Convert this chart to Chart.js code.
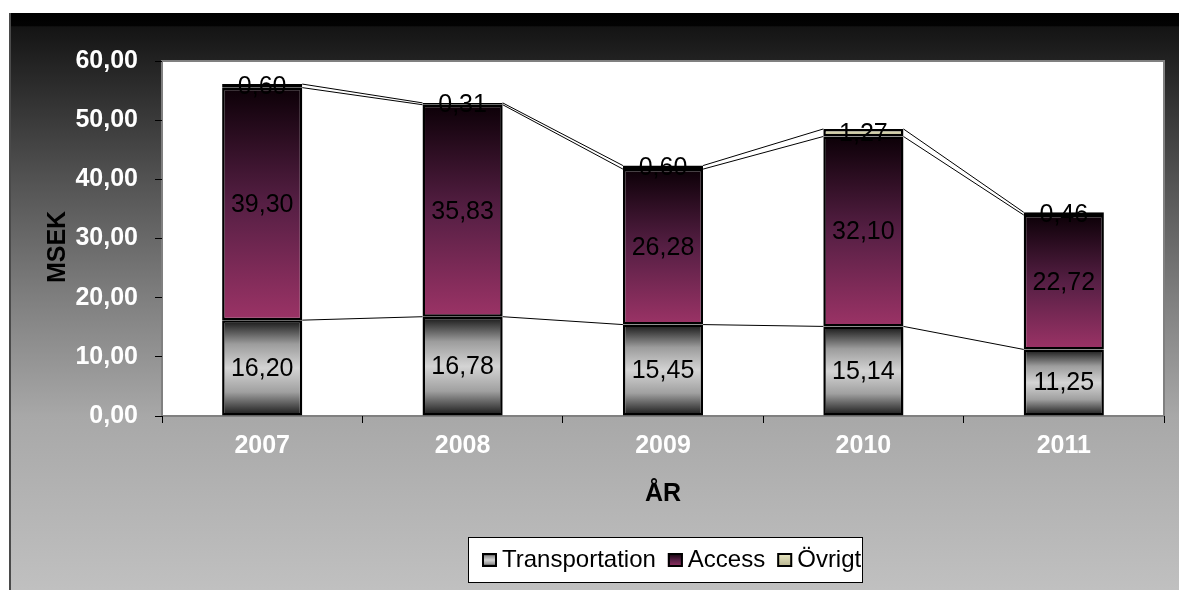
<!DOCTYPE html>
<html>
<head>
<meta charset="utf-8">
<script src="https://cdn.jsdelivr.net/npm/chart.js@4/dist/chart.umd.min.js"></script>
<style>
  body { margin: 0; background: #fff; }
  canvas { display: block; }
</style>
</head>
<body>
<canvas id="costChart" width="1179" height="590"></canvas>
<script>
// Chart data
const years = ['2007', '2008', '2009', '2010', '2011'];
const transportation = [16.20, 16.78, 15.45, 15.14, 11.25];
const access = [39.30, 35.83, 26.28, 32.10, 22.72];
const ovrigt = [0.60, 0.31, 0.60, 1.27, 0.46];
const yTickValues = [0, 10, 20, 30, 40, 50, 60];

const FONT = '"Liberation Sans", Arial, sans-serif';

function fmt(v) {
    return v.toFixed(2).replace('.', ',');
}

// vertical gradient stops per series
const gradientStops = [
    [[0, '#151515'], [0.25, '#9c9c9c'], [0.5, '#d4d4d4'], [0.75, '#a0a0a0'], [1, '#151515']],
    [[0, '#0c0007'], [0.5, '#561f44'], [1, '#9b3366']],
    [[0, '#ecebc6'], [1, '#b4b08c']]
];
const seriesData = [transportation, access, ovrigt];

function makeGradient(ctx, y0, y1, stops) {
    const g = ctx.createLinearGradient(0, y0, 0, y1);
    stops.forEach(s => g.addColorStop(s[0], s[1]));
    return g;
}

// gradient for one stacked segment, from the y scale
function segmentFill(context) {
    const chart = context.chart;
    const yScale = chart.scales.y;
    const ds = context.datasetIndex;
    const i = context.dataIndex;
    if (!yScale || i === undefined) return gradientStops[ds][0][1];
    let base = 0;
    for (let k = 0; k < ds; k++) base += seriesData[k][i];
    const top = base + seriesData[ds][i];
    const yTop = yScale.getPixelForValue(top);
    const yBase = yScale.getPixelForValue(base);
    if (!isFinite(yTop) || !isFinite(yBase) || yTop === yBase) return gradientStops[ds][0][1];
    return makeGradient(chart.ctx, yTop, yBase, gradientStops[ds]);
}

// background, plot area, titles, legend
const frame = {
    id: 'frame',
    beforeDraw(chart) {
        const ctx = chart.ctx;
        const a = chart.chartArea;
        ctx.save();
        ctx.fillStyle = '#fff';
        ctx.fillRect(0, 0, chart.width, chart.height);
        const bg = ctx.createLinearGradient(0, 13, 0, 590);
        bg.addColorStop(0, '#000000');
        bg.addColorStop(0.022, '#030303');
        bg.addColorStop(0.024, '#141414');
        bg.addColorStop(0.1, '#262626');
        bg.addColorStop(0.3, '#555555');
        bg.addColorStop(0.5, '#808080');
        bg.addColorStop(0.7, '#a8a8a8');
        bg.addColorStop(1, '#c0c0c0');
        ctx.fillStyle = bg;
        ctx.fillRect(9, 13, chart.width - 9, chart.height - 13);
        ctx.strokeStyle = '#4a4a4a';
        ctx.lineWidth = 2;
        ctx.beginPath();
        ctx.moveTo(10, 13);
        ctx.lineTo(10, chart.height);
        ctx.stroke();
        ctx.fillStyle = '#fff';
        ctx.fillRect(a.left, a.top, a.right - a.left, a.bottom - a.top);
        ctx.strokeStyle = '#808080';
        ctx.lineWidth = 2;
        ctx.strokeRect(a.left, a.top, a.right - a.left, a.bottom - a.top);
        ctx.restore();
    },
    afterDraw(chart) {
        const ctx = chart.ctx;
        const a = chart.chartArea;
        ctx.save();
        // axis titles
        ctx.fillStyle = '#000';
        ctx.font = 'bold 25px ' + FONT;
        ctx.textAlign = 'center';
        ctx.textBaseline = 'middle';
        ctx.fillText('ÅR', (a.left + a.right) / 2, 494);
        ctx.translate(58, 247);
        ctx.rotate(-Math.PI / 2);
        ctx.fillText('MSEK', 0, 0);
        ctx.restore();

        // legend
        ctx.save();
        ctx.fillStyle = '#fff';
        ctx.fillRect(468, 537, 394, 45);
        ctx.strokeStyle = '#000';
        ctx.lineWidth = 1;
        ctx.strokeRect(468.5, 537.5, 394, 45);
        ctx.font = '24px ' + FONT;
        ctx.textBaseline = 'middle';
        ctx.textAlign = 'left';
        let x = 482;
        chart.data.datasets.forEach((ds, k) => {
            ctx.fillStyle = makeGradient(ctx, 553, 567, gradientStops[k]);
            ctx.fillRect(x, 553, 15, 14);
            ctx.strokeStyle = '#000';
            ctx.lineWidth = 2;
            ctx.strokeRect(x + 1, 554, 13, 12);
            ctx.fillStyle = '#000';
            ctx.fillText(ds.label, x + 20, 560);
            x += 20 + ctx.measureText(ds.label).width + 12;
        });
        ctx.restore();
    }
};

// series lines between stacks and value labels
const seriesLines = {
    id: 'seriesLines',
    afterDatasetsDraw(chart) {
        const ctx = chart.ctx;
        ctx.save();
        ctx.strokeStyle = '#000';
        ctx.lineWidth = 1;
        chart.data.datasets.forEach((ds, k) => {
            const bars = chart.getDatasetMeta(k).data;
            for (let i = 0; i < bars.length - 1; i++) {
                const b0 = bars[i], b1 = bars[i + 1];
                ctx.beginPath();
                ctx.moveTo(b0.x + b0.width / 2, b0.y);
                ctx.lineTo(b1.x - b1.width / 2, b1.y);
                ctx.stroke();
            }
        });
        ctx.fillStyle = '#000';
        ctx.font = '25px ' + FONT;
        ctx.textAlign = 'center';
        ctx.textBaseline = 'middle';
        chart.data.datasets.forEach((ds, k) => {
            chart.getDatasetMeta(k).data.forEach((b, i) => {
                ctx.fillText(fmt(ds.data[i]), b.x, (b.y + b.base) / 2 + 1);
            });
        });
        ctx.restore();
    }
};

const barStyle = {
    backgroundColor: segmentFill,
    borderColor: '#000',
    borderWidth: 2.5,
    borderSkipped: false,
    barPercentage: 0.4,
    categoryPercentage: 1
};

new Chart(document.getElementById('costChart'), {
    type: 'bar',
    data: {
        labels: years,
        datasets: [
            Object.assign({ label: 'Transportation', data: transportation }, barStyle),
            Object.assign({ label: 'Access', data: access }, barStyle),
            Object.assign({ label: 'Övrigt', data: ovrigt }, barStyle)
        ]
    },
    options: {
        responsive: false,
        animation: false,
        devicePixelRatio: 1,
        layout: { padding: { left: 9, top: 61, right: 15, bottom: 0 } },
        plugins: {
            colors: { enabled: false },
            legend: { display: false },
            tooltip: { enabled: false }
        },
        scales: {
            x: {
                stacked: true,
                afterFit(scale) { scale.height = 174; },
                border: { display: false },
                grid: { offset: true, drawOnChartArea: false, drawTicks: true, tickLength: 7, color: '#000', lineWidth: 1 },
                ticks: {
                    color: '#fff',
                    padding: 8,
                    font: { family: FONT, size: 25, weight: 'bold' }
                }
            },
            y: {
                stacked: true,
                min: 0,
                max: 60,
                afterFit(scale) { scale.width = 153; },
                afterBuildTicks(scale) { scale.ticks = yTickValues.map(v => ({ value: v })); },
                border: { display: false },
                grid: { drawOnChartArea: false, drawTicks: true, tickLength: 7, color: '#000', lineWidth: 1 },
                ticks: {
                    color: '#fff',
                    padding: 17,
                    font: { family: FONT, size: 25, weight: 'bold' },
                    callback: v => fmt(v)
                }
            }
        }
    },
    plugins: [frame, seriesLines]
});
</script>
</body>
</html>
